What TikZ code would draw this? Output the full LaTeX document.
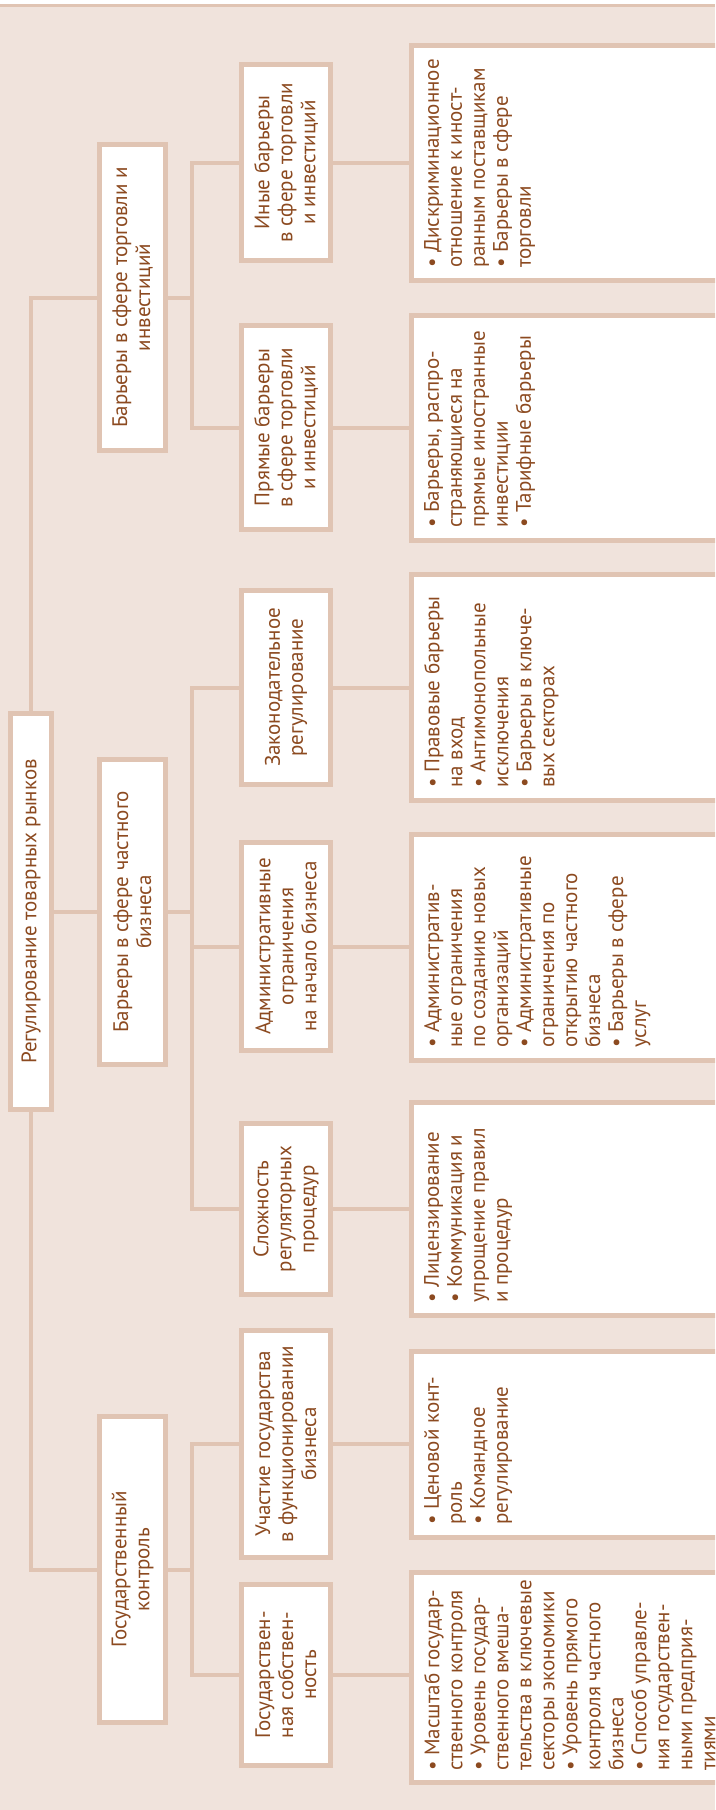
\documentclass[tikz,border=0pt]{standalone}
\usepackage{fontspec}
\setmainfont{PT Sans}
\definecolor{bgc}{HTML}{F0E3DC}
\definecolor{lnc}{HTML}{E0C4B3}
\definecolor{txc}{HTML}{8C4A20}
\begin{document}
\begin{tikzpicture}[x=1pt,y=-1pt,
  box/.style={draw=lnc, line width=5pt, fill=white, rectangle, inner sep=0pt, outer sep=0pt},
  conn/.style={draw=lnc, line width=4pt, line join=miter},
  ctext/.style={rotate=90, align=center, text=txc, font=\fontsize{21}{23}\selectfont, inner sep=0pt},
  ltext/.style={rotate=90, align=left, text=txc, font=\fontsize{21}{23}\selectfont, inner sep=0pt, anchor=north west},
  l2/.style={box, minimum width=66pt},
  l3/.style={box, minimum width=89pt},
  l4/.style={box, minimum width=326pt},
]
\useasboundingbox (0,0) rectangle (715,1810);
\clip (0,0) rectangle (715,1810);
\fill[bgc] (0,0) rectangle (715,1810);
\fill[white] (0,0) rectangle (715,4);
\fill[lnc] (0,4) rectangle (715,6.5);

% level 1
\node[box, minimum width=41pt, minimum height=396pt] (root) at (31,911.5) {};
% level 2
\node[l2, minimum height=306pt] (l2a) at (132.5,297.5) {};
\node[l2, minimum height=305pt] (l2b) at (132.5,912) {};
\node[l2, minimum height=306pt] (l2c) at (132.5,1569.5) {};
% level 3
\node[l3, minimum height=196pt] (l3a) at (286,162.5) {};
\node[l3, minimum height=204pt] (l3b) at (286,427.5) {};
\node[l3, minimum height=194pt] (l3c) at (286,687.5) {};
\node[l3, minimum height=208pt] (l3d) at (286,946.5) {};
\node[l3, minimum height=171pt] (l3e) at (286,1209) {};
\node[l3, minimum height=227pt] (l3f) at (286,1444) {};
\node[l3, minimum height=181pt] (l3g) at (286,1675) {};
% level 4
\node[l4, minimum height=235pt] (l4a) at (574.5,163) {};
\node[l4, minimum height=225pt] (l4b) at (574.5,428) {};
\node[l4, minimum height=226pt] (l4c) at (574.5,687.5) {};
\node[l4, minimum height=226pt] (l4d) at (574.5,947.5) {};
\node[l4, minimum height=213pt] (l4e) at (574.5,1209) {};
\node[l4, minimum height=186pt] (l4f) at (574.5,1444.5) {};
\node[l4, minimum height=210pt] (l4g) at (574.5,1677.5) {};

% texts
\node[ctext] (t1) at (root) {Регулирование товарных рынков};
\node[ctext] (t2a) at (l2a) {Барьеры в сфере торговли и\\инвестиций};
\node[ctext] (t2b) at (l2b) {Барьеры в сфере частного\\бизнеса};
\node[ctext] (t2c) at (l2c) {Государственный\\контроль};
\node[ctext] (t3a) at (l3a) {Иные барьеры\\в сфере торговли\\и инвестиций};
\node[ctext] (t3b) at (l3b) {Прямые барьеры\\в сфере торговли\\и инвестиций};
\node[ctext] (t3c) at (l3c) {Законодательное\\регулирование};
\node[ctext] (t3d) at (l3d) {Административные\\ограничения\\на начало бизнеса};
\node[ctext] (t3e) at (l3e) {Сложность\\регуляторных\\процедур};
\node[ctext] (t3f) at (l3f) {Участие государства\\в функционировании\\бизнеса};
\node[ctext] (t3g) at (l3g) {Государствен-\\ная собствен-\\ность};

\node[ltext] (t4a) at (424,268) {• Дискриминационное\\отношение к иност-\\ранным поставщикам\\• Барьеры в сфере\\торговли};
\node[ltext] (t4b) at (424,528) {• Барьеры, распро-\\страняющиеся на\\прямые иностранные\\инвестиции\\• Тарифные барьеры};
\node[ltext] (t4c) at (424,788) {• Правовые барьеры\\на вход\\• Антимонопольные\\исключения\\• Барьеры в ключе-\\вых секторах};
\node[ltext] (t4d) at (424,1048) {• Административ-\\ные ограничения\\по созданию новых\\организаций\\• Административные\\ограничения по\\открытию частного\\бизнеса\\• Барьеры в сфере\\услуг};
\node[ltext] (t4e) at (424,1303) {• Лицензирование\\• Коммуникация и\\упрощение правил\\и процедур};
\node[ltext] (t4f) at (424,1525) {• Ценовой конт-\\роль\\• Командное\\регулирование};
\node[ltext] (t4g) at (424,1771) {• Масштаб государ-\\ственного контроля\\• Уровень государ-\\ственного вмеша-\\тельства в ключевые\\секторы экономики\\• Уровень прямого\\контроля частного\\бизнеса\\• Способ управле-\\ния государствен-\\ными предприя-\\тиями};

% junctions
\coordinate (ja) at (192,297.5);
\coordinate (jb) at (192,912);
\coordinate (jc) at (192,1569.5);

% connectors
\draw[conn] (root.north) |- (l2a.west);
\draw[conn] (root.south) |- (l2c.west);
\draw[conn] (root.east) -- (root.east -| l2b.west);
\draw[conn] (l2a.east) -- (ja);
\draw[conn] (l3a.west) -| (ja) |- (l3b.west);
\draw[conn] (l2b.east) -- (jb);
\draw[conn] (l3c.west) -| (jb) |- (l3e.west);
\draw[conn] (l3d.west) -- (l3d.west -| jb);
\draw[conn] (l2c.east) -- (jc);
\draw[conn] (l3f.west) -| (jc) |- (l3g.west);
\draw[conn] (l3a.east) -- (l3a.east -| l4a.west);
\draw[conn] (l3b.east) -- (l3b.east -| l4b.west);
\draw[conn] (l3c.east) -- (l3c.east -| l4c.west);
\draw[conn] (l3d.east) -- (l3d.east -| l4d.west);
\draw[conn] (l3e.east) -- (l3e.east -| l4e.west);
\draw[conn] (l3f.east) -- (l3f.east -| l4f.west);
\draw[conn] (l3g.east) -- (l3g.east -| l4g.west);
\end{tikzpicture}
\end{document}
